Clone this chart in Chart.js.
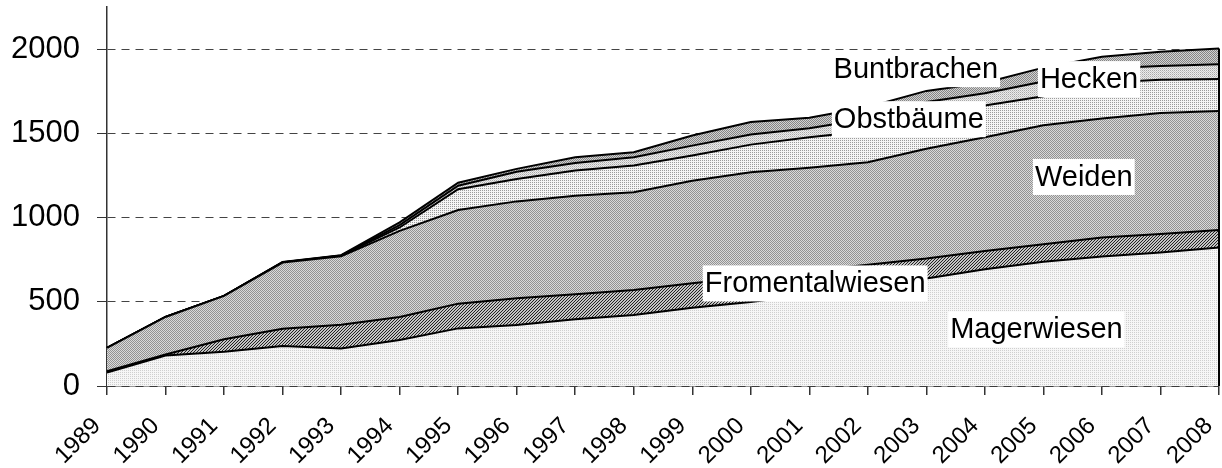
<!DOCTYPE html>
<html>
<head>
<meta charset="utf-8">
<script src="https://cdn.jsdelivr.net/npm/chart.js@4.4.1/dist/chart.umd.min.js"></script>
<style>
  html, body { margin: 0; background: #fff; }
  #wrap { width: 1222px; height: 468px; }
</style>
</head>
<body>
<div id="wrap"><canvas id="chart"></canvas></div>
<script>
// Jahre und Flächen (ha), von unten nach oben gestapelt
const years = ['1989', '1990', '1991', '1992', '1993', '1994', '1995', '1996', '1997', '1998',
               '1999', '2000', '2001', '2002', '2003', '2004', '2005', '2006', '2007', '2008'];
const magerwiesen     = [80, 181, 203, 237, 223, 273, 342, 362, 396, 421, 465, 499, 545, 590, 638, 693, 737, 769, 793, 822];
const fromentalwiesen = [8, 6, 74, 103, 141, 137, 147, 159, 149, 149, 145, 148, 139, 130, 119, 109, 105, 113, 109, 104];
const weiden          = [139, 223, 258, 393, 406, 511, 556, 575, 585, 580, 609, 622, 612, 609, 651, 675, 706, 706, 718, 706];
const obstbaeume      = [0, 0, 0, 1, 3, 20, 123, 133, 149, 159, 149, 164, 181, 185, 192, 188, 172, 212, 198, 190];
const hecken          = [0, 0, 0, 1, 2, 14, 21, 43, 45, 49, 59, 60, 53, 72, 86, 73, 88, 85, 82, 88];
const buntbrachen     = [0, 0, 0, 1, 2, 16, 18, 17, 34, 30, 60, 74, 63, 70, 66, 62, 82, 70, 85, 93];
const yTicks = [0, 500, 1000, 1500, 2000];

// Beschriftungen in den Flächen (x = Jahr-Index, y = Wert)
const areaLabels = [
  { text: 'Buntbrachen', x: 13.82, y: 1881 },
  { text: 'Hecken', x: 16.78, y: 1822 },
  { text: 'Obstbäume', x: 13.70, y: 1584 },
  { text: 'Weiden', x: 16.69, y: 1241 },
  { text: 'Fromentalwiesen', x: 12.10, y: 609 },
  { text: 'Magerwiesen', x: 15.88, y: 336 }
];

const FONT = "'Liberation Sans', Arial, sans-serif";
Chart.defaults.font.family = FONT;
Chart.defaults.color = '#000';

function makePattern(size, draw) {
  const c = document.createElement('canvas');
  c.width = size; c.height = size;
  const g = c.getContext('2d');
  draw(g);
  return g.createPattern(c, 'repeat');
}
function px(g, x, y, col) { g.fillStyle = col; g.fillRect(x, y, 1, 1); }

const fillMager = makePattern(2, g => {
  g.fillStyle = '#f6f6f6'; g.fillRect(0, 0, 2, 2);
  px(g, 0, 0, '#cfcfcf');
});
const fillFromental = makePattern(3, g => {
  g.fillStyle = '#c4c4c4'; g.fillRect(0, 0, 3, 3);
  px(g, 2, 0, '#222'); px(g, 1, 1, '#222'); px(g, 0, 2, '#222');
});
const fillWeiden = makePattern(2, g => {
  g.fillStyle = '#dadada'; g.fillRect(0, 0, 2, 2);
  px(g, 0, 0, '#939393'); px(g, 1, 1, '#939393');
});
const fillObst = makePattern(2, g => {
  g.fillStyle = '#f4f4f4'; g.fillRect(0, 0, 2, 2);
  px(g, 0, 0, '#9a9a9a');
});
const fillHecken = makePattern(2, g => {
  g.fillStyle = '#ececec'; g.fillRect(0, 0, 2, 2);
  px(g, 0, 0, '#a8a8a8'); px(g, 1, 1, '#c8c8c8');
});
const fillBunt = makePattern(2, g => {
  g.fillStyle = '#d2d2d2'; g.fillRect(0, 0, 2, 2);
  px(g, 0, 0, '#848484'); px(g, 1, 1, '#848484');
});

const seriesList = [magerwiesen, fromentalwiesen, weiden, obstbaeume, hecken, buntbrachen];
const names = ['Magerwiesen', 'Fromentalwiesen', 'Weiden', 'Obstbäume', 'Hecken', 'Buntbrachen'];
const fills = [fillMager, fillFromental, fillWeiden, fillObst, fillHecken, fillBunt];

const datasets = seriesList.map((data, i) => ({
  label: names[i],
  data: data,
  fill: i === 0 ? 'origin' : '-1',
  backgroundColor: fills[i],
  borderColor: '#000',
  borderWidth: 2,
  pointRadius: 0,
  tension: 0
}));

const edgeAndLabels = {
  id: 'edgeAndLabels',
  afterDatasetsDraw(chart) {
    const { ctx, scales: { x, y } } = chart;
    const last = years.length - 1;
    const total = seriesList.reduce((s, d) => s + d[last], 0);
    ctx.save();
    ctx.strokeStyle = '#000';
    ctx.lineWidth = 2;
    ctx.beginPath();
    ctx.moveTo(x.getPixelForValue(last), y.getPixelForValue(0));
    ctx.lineTo(x.getPixelForValue(last), y.getPixelForValue(total));
    ctx.stroke();

    ctx.font = '29px ' + FONT;
    ctx.textAlign = 'center';
    ctx.textBaseline = 'middle';
    areaLabels.forEach(l => {
      const lx = x.getPixelForValue(l.x);
      const ly = y.getPixelForValue(l.y);
      const w = ctx.measureText(l.text).width;
      ctx.fillStyle = '#fff';
      ctx.fillRect(lx - w / 2 - 2, ly - 18, w + 4, 36);
      ctx.fillStyle = '#000';
      ctx.fillText(l.text, lx, ly + 1);
    });
    ctx.restore();
  }
};

new Chart(document.getElementById('chart'), {
  type: 'line',
  data: { labels: years, datasets: datasets },
  options: {
    responsive: true,
    maintainAspectRatio: false,
    animation: false,
    events: [],
    layout: { padding: { top: 7, right: 3, left: 0, bottom: 0 } },
    plugins: { legend: { display: false }, tooltip: { enabled: false } },
    scales: {
      x: {
        offset: false,
        afterFit: s => { s.height = 82; s.paddingLeft = 0; s.paddingRight = 0; },
        grid: { drawOnChartArea: false, drawTicks: true, tickLength: 9, color: '#333', lineWidth: 1.5 },
        border: { color: '#333', width: 1.5 },
        ticks: { autoSkip: false, maxRotation: 45, minRotation: 45, padding: 17, labelOffset: -10, font: { size: 24 } }
      },
      y: {
        stacked: true,
        min: 0,
        max: 2250,
        afterFit: s => { s.width = 107; s.paddingTop = 0; s.paddingBottom = 0; },
        afterBuildTicks: s => { s.ticks = yTicks.map(v => ({ value: v })); },
        grid: { color: '#444', lineWidth: 1, tickLength: 10, tickColor: '#333' },
        border: { color: '#333', width: 1.5, dash: [8, 6] },
        ticks: { padding: 17, font: { size: 31 }, callback: v => String(v) }
      }
    }
  },
  plugins: [edgeAndLabels]
});
</script>
</body>
</html>
